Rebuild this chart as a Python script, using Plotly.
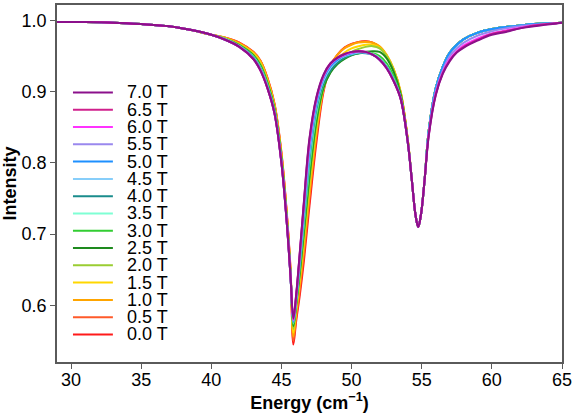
import plotly.graph_objects as go

# ---------------- data ----------------
FIELDS = ["0.0 T", "0.5 T", "1.0 T", "1.5 T", "2.0 T", "2.5 T", "3.0 T", "3.5 T",
          "4.0 T", "4.5 T", "5.0 T", "5.5 T", "6.0 T", "6.5 T", "7.0 T"]
COLORS = ["#FF1A1A", "#FF5A2A", "#FFA500", "#FFD700", "#9ACD32", "#1E8A1E", "#32CD32",
          "#7FFFD4", "#1A8C8C", "#87CEFA", "#1E90FF", "#9A88EE", "#FF33FF", "#D0208C",
          "#8B108B"]

# shared far-left tail
X_LEFT = [29, 31, 33, 35, 37, 38.5, 40]
Y_LEFT = [0.998, 0.9978, 0.997, 0.995, 0.992, 0.987, 0.980]

# central region (left dip + hump), per field
X_MID = [41, 42, 43, 43.5, 44, 44.5, 45, 45.4, 45.65, 45.85, 46.05, 46.3, 46.6, 47,
         47.5, 48, 48.5, 49, 49.5, 50, 50.5, 51, 51.5, 52, 52.5, 53, 53.5, 54]
Y_MID_00 = [0.976, 0.969, 0.956, 0.944, 0.920, 0.884, 0.815, 0.725, 0.650, 0.545, 0.578, 0.613, 0.662, 0.740, 0.830, 0.900, 0.936, 0.952, 0.962, 0.967, 0.970, 0.971, 0.969, 0.963, 0.950, 0.930, 0.898, 0.833]
Y_MID_05 = [0.976, 0.969, 0.955, 0.943, 0.919, 0.883, 0.813, 0.723, 0.648, 0.550, 0.583, 0.620, 0.672, 0.750, 0.838, 0.903, 0.937, 0.952, 0.962, 0.967, 0.970, 0.971, 0.969, 0.963, 0.951, 0.931, 0.899, 0.833]
Y_MID_10 = [0.976, 0.968, 0.955, 0.943, 0.918, 0.882, 0.812, 0.722, 0.646, 0.556, 0.588, 0.627, 0.680, 0.757, 0.843, 0.905, 0.937, 0.952, 0.961, 0.966, 0.969, 0.970, 0.969, 0.964, 0.952, 0.932, 0.900, 0.834]
Y_MID_15 = [0.975, 0.967, 0.954, 0.941, 0.916, 0.880, 0.810, 0.720, 0.645, 0.562, 0.594, 0.635, 0.690, 0.768, 0.850, 0.905, 0.932, 0.946, 0.955, 0.961, 0.964, 0.966, 0.966, 0.962, 0.951, 0.931, 0.899, 0.833]
Y_MID_20 = [0.975, 0.966, 0.952, 0.939, 0.914, 0.878, 0.808, 0.718, 0.643, 0.567, 0.598, 0.640, 0.697, 0.775, 0.855, 0.905, 0.928, 0.941, 0.950, 0.956, 0.960, 0.963, 0.964, 0.961, 0.950, 0.930, 0.898, 0.832]
Y_MID_25 = [0.974, 0.965, 0.951, 0.937, 0.912, 0.876, 0.806, 0.716, 0.642, 0.571, 0.601, 0.645, 0.703, 0.782, 0.860, 0.906, 0.927, 0.939, 0.946, 0.951, 0.954, 0.956, 0.957, 0.956, 0.947, 0.928, 0.896, 0.832]
Y_MID_30 = [0.974, 0.965, 0.950, 0.936, 0.911, 0.875, 0.805, 0.715, 0.642, 0.573, 0.603, 0.650, 0.710, 0.790, 0.866, 0.910, 0.930, 0.941, 0.948, 0.952, 0.954, 0.955, 0.954, 0.950, 0.940, 0.922, 0.893, 0.831]
Y_MID_35 = [0.974, 0.964, 0.949, 0.934, 0.909, 0.873, 0.803, 0.714, 0.641, 0.575, 0.606, 0.655, 0.718, 0.800, 0.872, 0.913, 0.932, 0.943, 0.949, 0.953, 0.955, 0.955, 0.953, 0.947, 0.936, 0.918, 0.891, 0.831]
Y_MID_40 = [0.973, 0.964, 0.948, 0.933, 0.908, 0.872, 0.802, 0.713, 0.641, 0.576, 0.607, 0.657, 0.722, 0.805, 0.876, 0.912, 0.930, 0.941, 0.948, 0.952, 0.954, 0.954, 0.952, 0.946, 0.935, 0.917, 0.891, 0.830]
Y_MID_45 = [0.973, 0.964, 0.947, 0.932, 0.907, 0.871, 0.801, 0.712, 0.640, 0.577, 0.609, 0.661, 0.728, 0.812, 0.881, 0.916, 0.934, 0.944, 0.950, 0.953, 0.955, 0.955, 0.952, 0.946, 0.934, 0.917, 0.891, 0.830]
Y_MID_50 = [0.973, 0.963, 0.947, 0.931, 0.906, 0.871, 0.801, 0.712, 0.640, 0.578, 0.611, 0.665, 0.734, 0.820, 0.885, 0.919, 0.936, 0.945, 0.951, 0.954, 0.956, 0.955, 0.952, 0.945, 0.934, 0.916, 0.891, 0.830]
Y_MID_55 = [0.973, 0.963, 0.946, 0.931, 0.906, 0.870, 0.800, 0.711, 0.640, 0.579, 0.612, 0.668, 0.739, 0.826, 0.889, 0.921, 0.938, 0.947, 0.952, 0.955, 0.956, 0.955, 0.952, 0.945, 0.933, 0.915, 0.890, 0.830]
Y_MID_60 = [0.973, 0.963, 0.946, 0.930, 0.905, 0.870, 0.800, 0.711, 0.640, 0.580, 0.613, 0.670, 0.742, 0.830, 0.891, 0.922, 0.939, 0.947, 0.952, 0.955, 0.957, 0.956, 0.952, 0.945, 0.933, 0.915, 0.890, 0.830]
Y_MID_65 = [0.973, 0.963, 0.946, 0.930, 0.905, 0.870, 0.800, 0.711, 0.640, 0.581, 0.614, 0.671, 0.744, 0.833, 0.892, 0.923, 0.940, 0.948, 0.953, 0.956, 0.957, 0.956, 0.952, 0.945, 0.933, 0.915, 0.890, 0.830]
Y_MID_70 = [0.973, 0.963, 0.946, 0.930, 0.905, 0.870, 0.800, 0.711, 0.640, 0.582, 0.615, 0.672, 0.745, 0.835, 0.893, 0.924, 0.940, 0.948, 0.953, 0.956, 0.957, 0.956, 0.952, 0.945, 0.933, 0.915, 0.890, 0.830]

# shared right dip
X_DIP = [54.3, 54.55, 54.75, 54.95, 55.2]
Y_DIP = [0.775, 0.728, 0.710, 0.728, 0.775]

# right tail, per field
X_RIGHT = [55.5, 56, 56.5, 57, 57.5, 58, 59, 60, 61, 62, 63, 65]
Y_RIGHT_LOW = [0.845, 0.905, 0.935, 0.955, 0.966, 0.974, 0.983, 0.988, 0.991, 0.993, 0.995, 0.997]
Y_RIGHT_55 = [0.842, 0.900, 0.930, 0.950, 0.961, 0.969, 0.979, 0.985, 0.989, 0.992, 0.994, 0.997]
Y_RIGHT_60 = [0.840, 0.897, 0.927, 0.946, 0.957, 0.965, 0.975, 0.982, 0.986, 0.990, 0.993, 0.997]
Y_RIGHT_65 = [0.839, 0.896, 0.926, 0.944, 0.956, 0.963, 0.973, 0.981, 0.985, 0.989, 0.993, 0.997]
Y_RIGHT_70 = [0.838, 0.895, 0.925, 0.943, 0.955, 0.962, 0.972, 0.980, 0.984, 0.989, 0.992, 0.997]

Y_MIDS = [Y_MID_00, Y_MID_05, Y_MID_10, Y_MID_15, Y_MID_20, Y_MID_25, Y_MID_30, Y_MID_35,
          Y_MID_40, Y_MID_45, Y_MID_50, Y_MID_55, Y_MID_60, Y_MID_65, Y_MID_70]
Y_RIGHTS = [Y_RIGHT_LOW] * 11 + [Y_RIGHT_55, Y_RIGHT_60, Y_RIGHT_65, Y_RIGHT_70]

X_TICKS = [30, 35, 40, 45, 50, 55, 60, 65]
Y_TICKS = [0.6, 0.7, 0.8, 0.9, 1.0]

# ---------------- figure ----------------
fig = go.Figure()
X_ALL = X_LEFT + X_MID + X_DIP + X_RIGHT
for name, col, ym, yr in zip(FIELDS, COLORS, Y_MIDS, Y_RIGHTS):
    fig.add_trace(go.Scatter(
        x=X_ALL, y=Y_LEFT + ym + Y_DIP + yr, mode="lines", name=name,
        line=dict(color=col, width=2, shape="spline", smoothing=1.0),
        showlegend=False))

FONT = "Liberation Sans, Arial, sans-serif"

# manual legend (7.0 T at top)
L, R, T, B = 57, 563, 2.7, 362
def px_to_paper_x(px):
    return (px - L) / (R - L)
def px_to_paper_y(py):
    return (B - py) / (B - T)

top_y, step = 90.7, 17.4
for k, (name, col) in enumerate(zip(FIELDS[::-1], COLORS[::-1])):
    py = top_y + k * step
    fig.add_shape(type="line", xref="paper", yref="paper",
                  x0=px_to_paper_x(73), x1=px_to_paper_x(113),
                  y0=px_to_paper_y(py), y1=px_to_paper_y(py),
                  line=dict(color=col, width=2))
    fig.add_annotation(xref="paper", yref="paper", x=px_to_paper_x(126),
                       y=px_to_paper_y(py), text=name, showarrow=False,
                       xanchor="left", yanchor="middle", borderpad=0,
                       font=dict(family=FONT, size=18, color="#000"))

axis_common = dict(showline=True, mirror=True, linecolor="#5a5a5a", linewidth=1.5,
                   ticks="outside", ticklen=5, tickwidth=1.3, tickcolor="#5a5a5a",
                   showgrid=False, zeroline=False,
                   tickfont=dict(family=FONT, size=18, color="#000"))

fig.update_xaxes(range=[29, 65], tickvals=X_TICKS, ticktext=[str(v) for v in X_TICKS],
                 ticklabelstandoff=-4,
                 title=dict(text="Energy (cm<sup>\u22121</sup>)", standoff=4,
                            font=dict(family=FONT, size=18, color="#000", weight="bold")),
                 **axis_common)
fig.update_yaxes(range=[0.5205, 1.0218], tickvals=Y_TICKS,
                 ticktext=[f"{v:.1f}" for v in Y_TICKS],
                 title=dict(text="Intensity", standoff=6,
                            font=dict(family=FONT, size=18, color="#000", weight="bold")),
                 **axis_common)

fig.update_layout(width=575, height=414, margin=dict(l=57, r=12, t=3, b=52),
                  plot_bgcolor="white", paper_bgcolor="white", showlegend=False)

fig.write_html("out.html")
